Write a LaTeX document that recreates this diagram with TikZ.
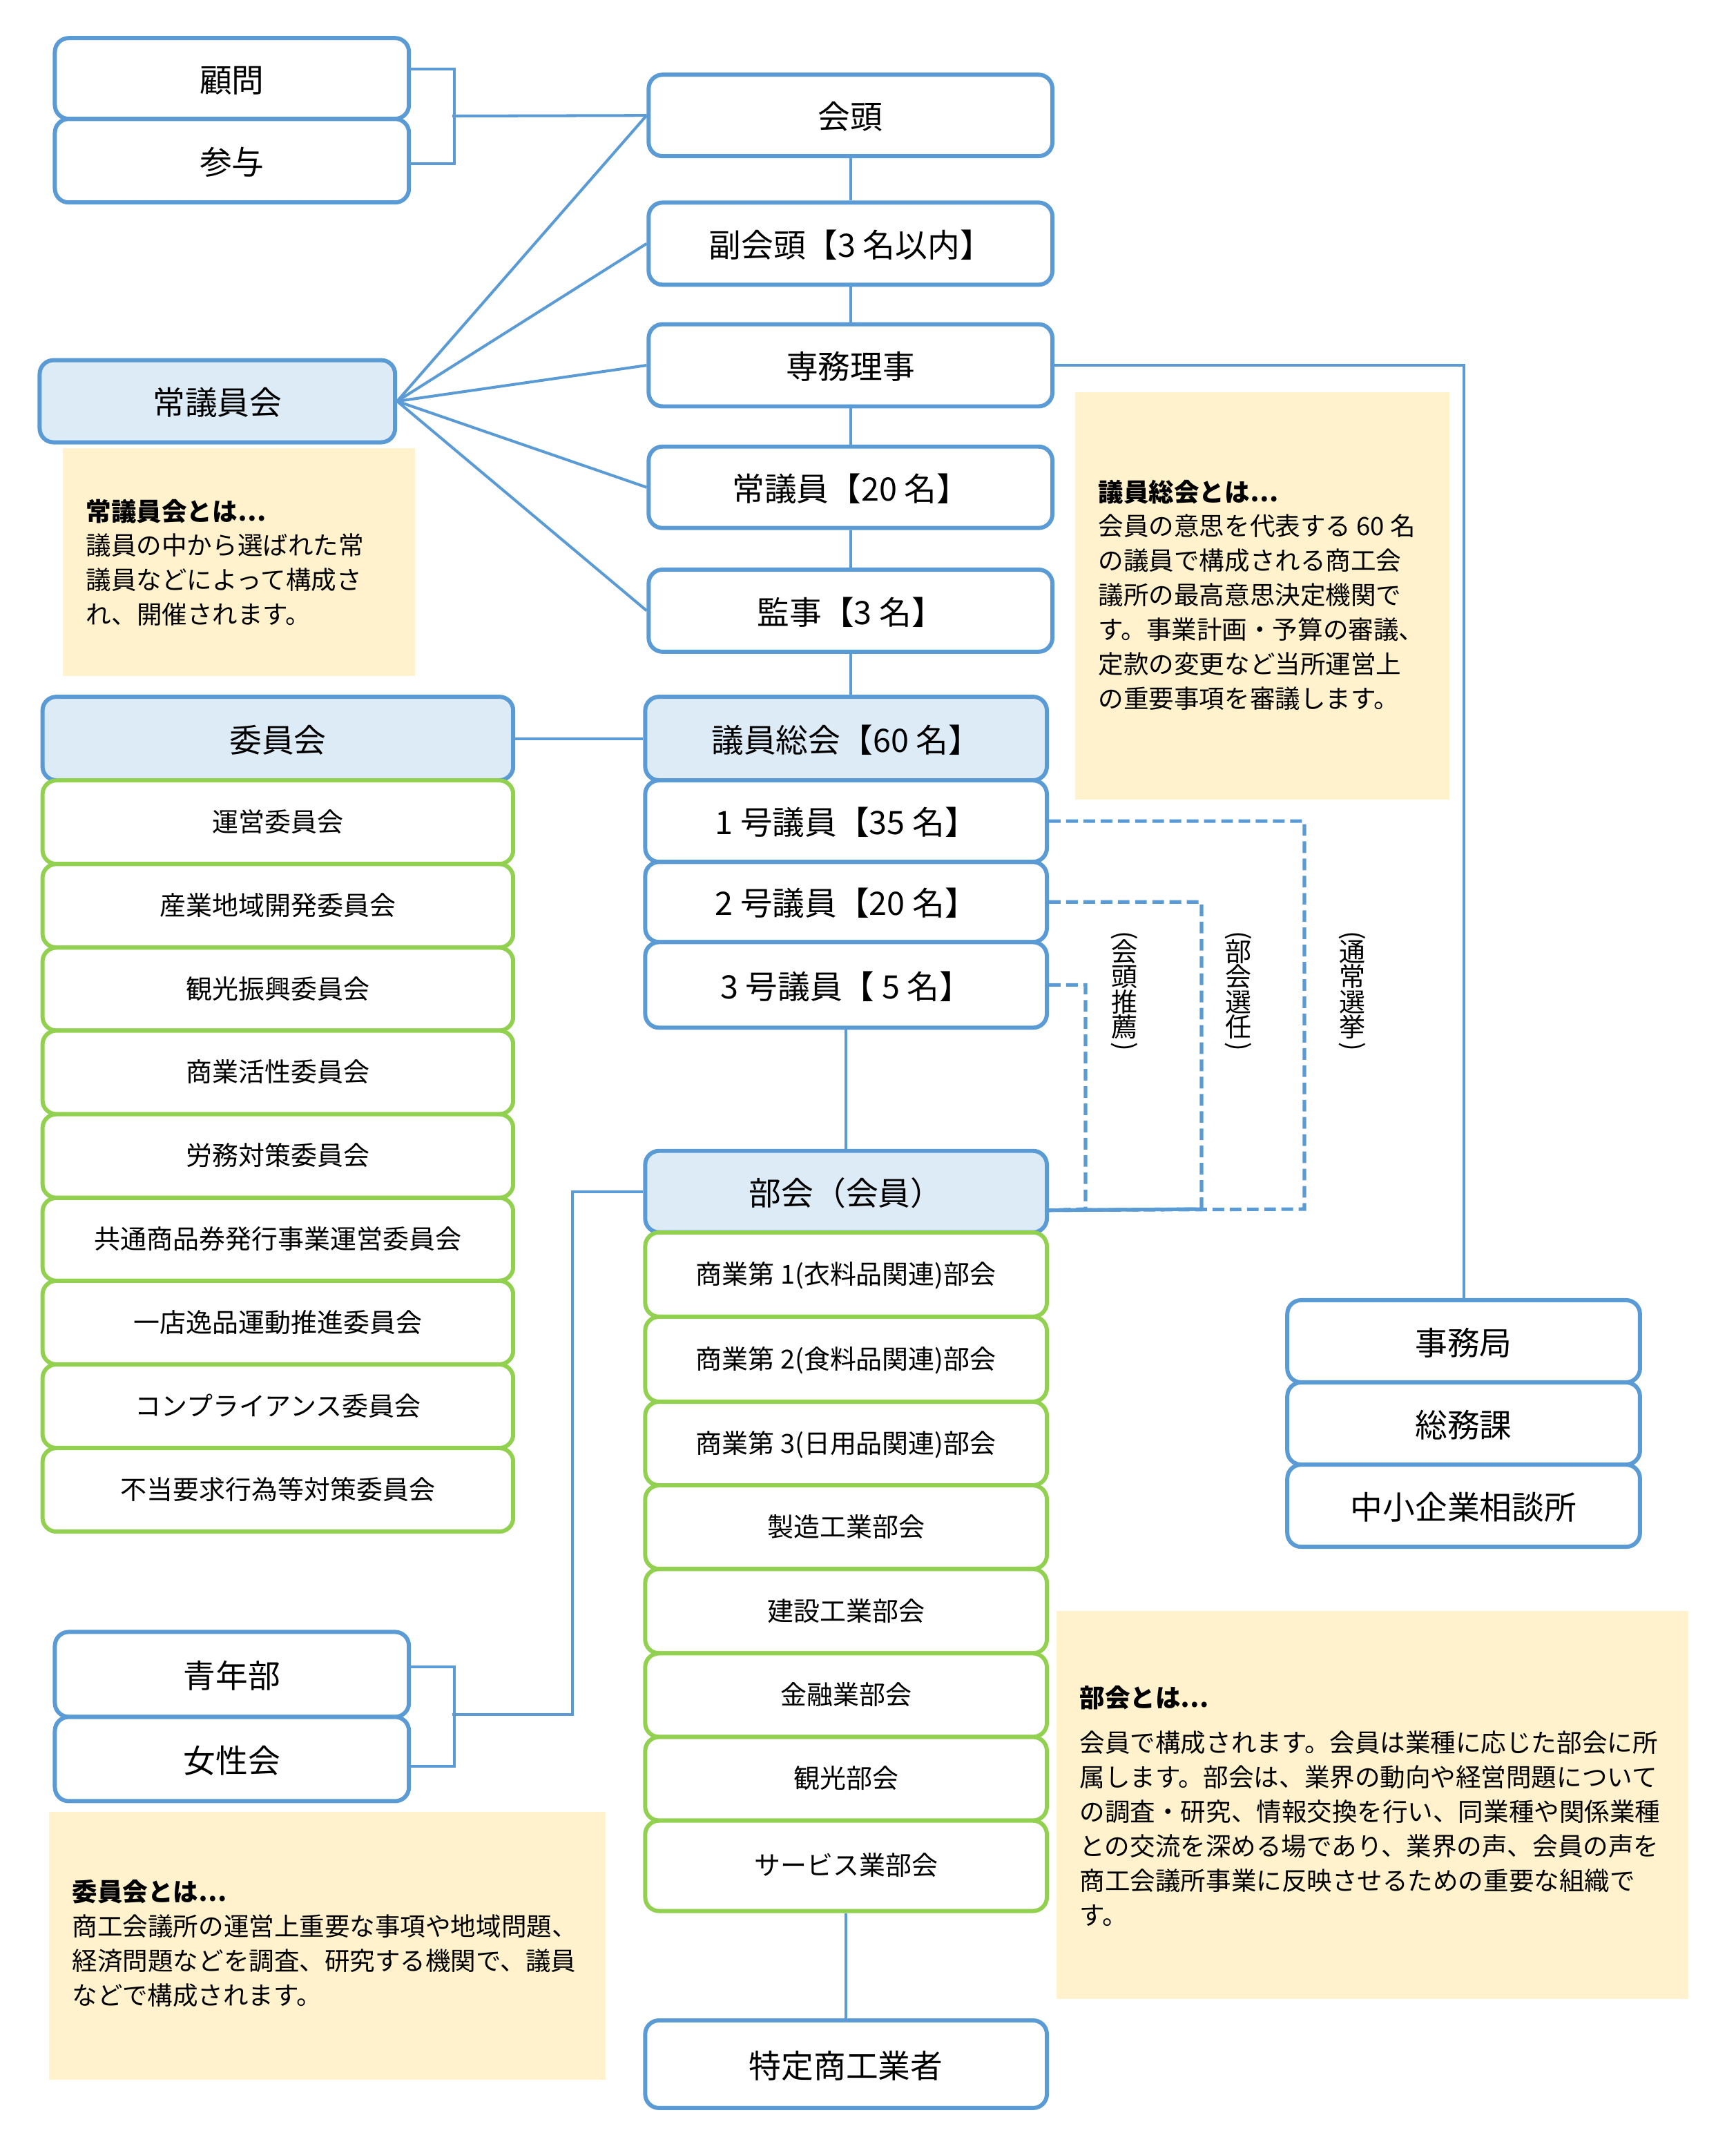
\documentclass[tikz,border=0pt]{standalone}
\usepackage{fontspec}
\setmainfont{Noto Sans CJK JP}
\usepackage{graphicx}
\definecolor{cblue}{HTML}{5B9BD5}
\definecolor{clight}{HTML}{DDEBF7}
\definecolor{cgreen}{HTML}{92D050}
\definecolor{ccream}{HTML}{FFF2CC}
\newcommand\bx[7]{\node[#1, minimum width={(#5-#3)*0.01cm}, minimum height={(#6-#4)*0.01cm}] (#2) at ({(#3+#5)*0.005},{-(#4+#6)*0.005}) {#7};}
\newcommand\vpar[1]{\rotatebox[origin=c]{-90}{#1}}
\tikzset{
 bluebox/.style={draw=cblue, line width=1.7pt, rounded corners=0.2cm, fill=white, inner sep=0pt, font=\fontsize{13.3}{15}\selectfont, text height=1.12em, text depth=0em},
 lightbox/.style={bluebox, fill=clight},
 greenbox/.style={bluebox, draw=cgreen, font=\fontsize{10.8}{13}\selectfont, text height=0.9em, text depth=0.12em},
 notebox/.style={fill=ccream, draw=none, inner sep=0pt},
 notetext/.style={anchor=north west, align=left, inner sep=0pt, font=\fontsize{10.4}{14.2}\selectfont},
 conn/.style={draw=cblue, line width=1.15pt},
 dashline/.style={draw=cblue, line width=1.45pt, dash pattern=on 4.8pt off 2.3pt},
 vlab/.style={align=center, inner sep=0pt, font=\fontsize{10.8}{10.4}\selectfont}
}
\begin{document}
\begin{tikzpicture}
\useasboundingbox[fill=white] (0,0) rectangle (25.13,-31.05);
% notes
\bx{notebox}{n1}{91}{648}{601}{978}{}
\bx{notebox}{n2}{1555}{567}{2097}{1157}{}
\bx{notebox}{n3}{1528}{2330}{2443}{2893}{}
\bx{notebox}{n4}{70}{2621}{877}{3009}{}
\node[notetext] (t1) at (1.24,-7.22) {\textbf{常議員会とは…}\\議員の中から選ばれた常\\議員などによって構成さ\\れ、開催されます。};
\node[notetext] (t2) at (15.90,-6.94) {\textbf{議員総会とは…}\\会員の意思を代表する 60 名\\の議員で構成される商工会\\議所の最高意思決定機関で\\す。事業計画・予算の審議、\\定款の変更など当所運営上\\の重要事項を審議します。};
\node[notetext] (t3) at (15.63,-24.41) {\textbf{部会とは…}\\[0.15cm]会員で構成されます。会員は業種に応じた部会に所\\属します。部会は、業界の動向や経営問題について\\の調査・研究、情報交換を行い、同業種や関係業種\\との交流を深める場であり、業界の声、会員の声を\\商工会議所事業に反映させるための重要な組織で\\す。};
\node[notetext] (t4) at (1.04,-27.22) {\textbf{委員会とは…}\\商工会議所の運営上重要な事項や地域問題、\\経済問題などを調査、研究する機関で、議員\\などで構成されます。};
% left top
\bx{bluebox}{komon}{79}{55}{592}{172}{顧問}
\bx{bluebox}{sanyo}{79}{172}{592}{293}{参与}
\bx{lightbox}{joigiinkai}{57}{521}{572}{640}{常議員会}
% center
\bx{bluebox}{kaito}{938}{108}{1523}{226}{会頭}
\bx{bluebox}{fukukaito}{938}{293}{1523}{412}{副会頭【3 名以内】}
\bx{bluebox}{senmu}{938}{469}{1523}{588}{専務理事}
\bx{bluebox}{joigiin}{938}{646}{1523}{764}{常議員【20 名】}
\bx{bluebox}{kanji}{938}{824}{1523}{943}{監事【3 名】}
\bx{lightbox}{giinsokai}{933}{1008}{1515}{1129}{議員総会【60 名】}
\bx{bluebox}{g1}{933}{1129}{1515}{1247}{1 号議員【35 名】}
\bx{bluebox}{g2}{933}{1247}{1515}{1363}{2 号議員【20 名】}
\bx{bluebox}{g3}{933}{1363}{1515}{1487}{3 号議員【 5 名】}
\bx{lightbox}{bukai}{933}{1665}{1515}{1783}{部会（会員）}
\bx{greenbox}{c1}{933}{1783}{1515}{1905}{商業第 1(衣料品関連)部会}
\bx{greenbox}{c2}{933}{1905}{1515}{2028}{商業第 2(食料品関連)部会}
\bx{greenbox}{c3}{933}{2028}{1515}{2149}{商業第 3(日用品関連)部会}
\bx{greenbox}{c4}{933}{2149}{1515}{2270}{製造工業部会}
\bx{greenbox}{c5}{933}{2270}{1515}{2392}{建設工業部会}
\bx{greenbox}{c6}{933}{2392}{1515}{2513}{金融業部会}
\bx{greenbox}{c7}{933}{2513}{1515}{2634}{観光部会}
\bx{greenbox}{c8}{933}{2634}{1515}{2765}{サービス業部会}
\bx{bluebox}{tokutei}{933}{2923}{1515}{3050}{特定商工業者}
% left committees
\bx{lightbox}{iinkai}{61}{1008}{743}{1129}{委員会}
\bx{greenbox}{l1}{61}{1129}{743}{1250}{運営委員会}
\bx{greenbox}{l2}{61}{1250}{743}{1371}{産業地域開発委員会}
\bx{greenbox}{l3}{61}{1371}{743}{1491}{観光振興委員会}
\bx{greenbox}{l4}{61}{1491}{743}{1612}{商業活性委員会}
\bx{greenbox}{l5}{61}{1612}{743}{1733}{労務対策委員会}
\bx{greenbox}{l6}{61}{1733}{743}{1853}{共通商品券発行事業運営委員会}
\bx{greenbox}{l7}{61}{1853}{743}{1974}{一店逸品運動推進委員会}
\bx{greenbox}{l8}{61}{1974}{743}{2095}{コンプライアンス委員会}
\bx{greenbox}{l9}{61}{2095}{743}{2216}{不当要求行為等対策委員会}
\bx{bluebox}{seinenbu}{79}{2361}{592}{2484}{青年部}
\bx{bluebox}{joseikai}{79}{2484}{592}{2606}{女性会}
% right
\bx{bluebox}{jimukyoku}{1862}{1881}{2373}{2000}{事務局}
\bx{bluebox}{somuka}{1862}{2000}{2373}{2119}{総務課}
\bx{bluebox}{chusho}{1862}{2119}{2373}{2238}{中小企業相談所}
% vertical labels
\node[vlab] (vl1) at (16.28,-14.38) {\vpar{(}\\[-3pt]会\\頭\\推\\薦\\[-3pt]\vpar{)}};
\node[vlab] (vl2) at (17.93,-14.38) {\vpar{(}\\[-3pt]部\\会\\選\\任\\[-3pt]\vpar{)}};
\node[vlab] (vl3) at (19.58,-14.38) {\vpar{(}\\[-3pt]通\\常\\選\\挙\\[-3pt]\vpar{)}};
% connectors
\coordinate (kb) at (6.55,-1.68);
\draw[conn] ([yshift=0.135cm]komon.east) -- ++(0.63,0) |- ([yshift=-0.04cm]sanyo.east);
\draw[conn] (kb) -- (kaito.west);
\foreach \t in {kaito,fukukaito,senmu,joigiin,kanji}
  \draw[conn] (joigiinkai.east) -- (\t.west);
\draw[conn] (kaito) -- (fukukaito);
\draw[conn] (fukukaito) -- (senmu);
\draw[conn] (senmu) -- (joigiin);
\draw[conn] (joigiin) -- (kanji);
\draw[conn] (kanji.south) -- (kanji.south |- giinsokai.north);
\draw[conn] (g3) -- (bukai);
\draw[conn] (c8) -- (tokutei);
\draw[conn] (iinkai) -- (giinsokai);
\draw[conn] (senmu.east) -| (jimukyoku.north);
\coordinate (sb) at (8.29,-24.83);
\draw[conn] ([yshift=0.105cm]seinenbu.east) -- ++(0.63,0) |- ([yshift=-0.10cm]joseikai.east);
\draw[conn] (6.55,-24.83) -- (sb) |- (bukai.west);
% dashed
\coordinate (bk) at ([yshift=-0.27cm]bukai.east);
\coordinate (d1) at (18.89,-17.51);
\coordinate (d2) at (17.40,-17.51);
\coordinate (d3) at (15.72,-17.51);
\draw[dashline] (g1.east) -| (d1) -- (bk);
\draw[dashline] (g2.east) -| (d2) -- (bk);
\draw[dashline] (g3.east) -| (d3) -- (bk);
\draw[conn, line width=1.45pt] (bk) -- (d2);
\end{tikzpicture}
\end{document}
